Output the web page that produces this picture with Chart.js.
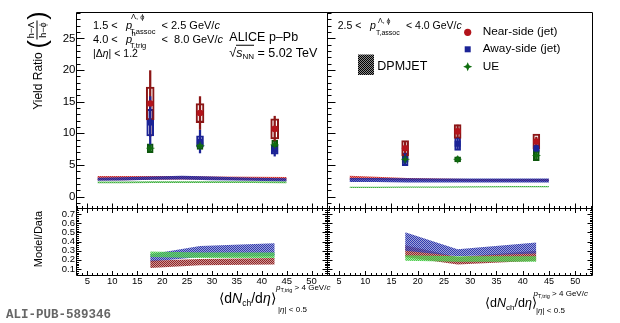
<!DOCTYPE html>
<html>
<head>
<meta charset="utf-8">
<script src="https://cdn.jsdelivr.net/npm/chart.js@4.4.1/dist/chart.umd.min.js"></script>
<style>
html,body{margin:0;padding:0;background:#fff;}
#wrap{position:relative;width:620px;height:323px;overflow:hidden;font-family:"Liberation Sans",Arial,Helvetica,sans-serif;color:#000;}
#wrap canvas{position:absolute;left:0;top:0;}
.t{position:absolute;white-space:nowrap;line-height:1;transform:translateY(-50%);}
.r{position:absolute;white-space:nowrap;line-height:1;transform:translate(-50%,-50%) rotate(-90deg);}
i{font-style:italic;}
</style>
</head>
<body>
<div id="wrap">
<canvas id="cTL" width="620" height="323"></canvas>
<canvas id="cBL" width="620" height="323"></canvas>
<canvas id="cTR" width="620" height="323"></canvas>
<canvas id="cBR" width="620" height="323"></canvas>

<div class="r" style="left:38px;top:81px;font-size:12px">Yield Ratio</div>
<div class="r" style="left:37px;top:30px;display:flex;align-items:center">
  <span style="font-size:25px">(</span>
  <span style="display:inline-flex;flex-direction:column;align-items:center;font-size:9px;margin:0 1px">
    <span style="border-bottom:1px solid #000;padding:0 1px 1px">h−Λ</span>
    <span style="padding-top:1px">h−ϕ</span>
  </span>
  <span style="font-size:25px">)</span>
</div>
<div class="r" style="left:38px;top:239px;font-size:11px">Model/Data</div>

<div class="t" style="left:93px;top:25px;font-size:11px">1.5 &lt;</div>
<div class="t" style="left:126px;top:25px;font-size:11px"><i>p</i></div>
<div class="t" style="left:131px;top:17px;font-size:7.5px">Λ, ϕ</div>
<div class="t" style="left:130px;top:31.5px;font-size:7.5px">T,assoc</div>
<div class="t" style="left:161.5px;top:25px;font-size:11px">&lt; 2.5 GeV/<i>c</i></div>
<div class="t" style="left:93px;top:39.3px;font-size:11px">4.0 &lt;</div>
<div class="t" style="left:126px;top:39.3px;font-size:11px"><i>p</i></div>
<div class="t" style="left:131.5px;top:34px;font-size:7.5px">h</div>
<div class="t" style="left:130px;top:45.5px;font-size:7.5px">T,trig</div>
<div class="t" style="left:161.5px;top:39.3px;font-size:11px">&lt;&nbsp; 8.0 GeV/<i>c</i></div>
<div class="t" style="left:93px;top:53.3px;font-size:10.5px">|Δ<i>η</i>| &lt; 1.2</div>
<div class="t" style="left:229.3px;top:37.3px;font-size:12.5px">ALICE p–Pb</div>
<div class="t" style="left:229.3px;top:52.7px;font-size:12.5px">√<span style="border-top:1px solid #000"><i>s</i><span style="font-size:8px;position:relative;top:2px">NN</span></span> = 5.02 TeV</div>

<div class="t" style="left:337.7px;top:25px;font-size:10.5px">2.5 &lt;</div>
<div class="t" style="left:370px;top:25px;font-size:10.5px"><i>p</i></div>
<div class="t" style="left:378px;top:19.5px;font-size:7px">Λ, ϕ</div>
<div class="t" style="left:376px;top:31.5px;font-size:7px">T,assoc</div>
<div class="t" style="left:406px;top:25px;font-size:10.5px">&lt; 4.0 GeV/<i>c</i></div>

<svg style="position:absolute;left:0;top:0" width="620" height="323">
  <defs>
    <pattern id="hp" width="2" height="2" patternUnits="userSpaceOnUse">
      <rect width="2" height="2" fill="#8a8a8a"/>
      <rect width="1" height="1" fill="#000"/>
      <rect x="1" y="1" width="1" height="1" fill="#000"/>
    </pattern>
  </defs>
  <rect x="358" y="54.5" width="16" height="20.5" fill="url(#hp)"/>
  <circle cx="467.7" cy="32.3" r="3.6" fill="#b3141b"/>
  <rect x="464.7" y="46.3" width="6" height="6" fill="#1b2396"/>
  <polygon points="467.7,62.2 469.1,65.3 472.2,66.7 469.1,68.1 467.7,71.2 466.3,68.1 463.2,66.7 466.3,65.3" fill="#0f6e0f"/>
</svg>
<div class="t" style="left:482.7px;top:32.3px;font-size:11.8px">Near-side (jet)</div>
<div class="t" style="left:482.7px;top:49.3px;font-size:11.8px">Away-side (jet)</div>
<div class="t" style="left:482.7px;top:66.7px;font-size:11.8px">UE</div>
<div class="t" style="left:377.3px;top:65.7px;font-size:12.5px">DPMJET</div>

<div class="t" style="left:219.3px;top:298.3px;font-size:14px">⟨d<i>N</i><span style="font-size:8.5px;position:relative;top:3px">ch</span>/d<i>η</i>⟩</div>
<div class="t" style="left:276px;top:287.5px;font-size:8px"><i>p</i><span style="font-size:5.5px;position:relative;top:2px">T,trig</span> &gt; 4 GeV/<i>c</i></div>
<div class="t" style="left:278px;top:309.5px;font-size:8px">|<i>η</i>| &lt; 0.5</div>

<div class="t" style="left:485px;top:303.3px;font-size:12.5px">⟨d<i>N</i><span style="font-size:8px;position:relative;top:3px">ch</span>/d<i>η</i>⟩</div>
<div class="t" style="left:533.5px;top:294.3px;font-size:8px"><i>p</i><span style="font-size:5.5px;position:relative;top:2px">T,trig</span> &gt; 4 GeV/<i>c</i></div>
<div class="t" style="left:536px;top:310.7px;font-size:8px">|<i>η</i>| &lt; 0.5</div>

<div class="t" style="left:6px;top:315px;font-size:12.5px;font-family:'Liberation Mono',monospace;font-weight:bold;color:#666">ALI-PUB-589346</div>
</div>

<script>
// ---------------- data ----------------
const multClasses = [17.6, 27.6, 42.6];

// 1.5 < pT,assoc < 2.5 GeV/c
const nearSideLow = [14.7, 13.2, 10.7];
const nearSideLowStat = [5.2, 2.6, 2.0];
const nearSideLowSys = [2.6, 1.5, 1.6];
const awaySideLow = [11.7, 8.7, 7.4];
const awaySideLowStat = [4.1, 1.8, 1.0];
const awaySideLowSys = [2.1, 0.9, 0.7];
const ueLow = [7.65, 8.05, 8.2];
const ueLowStat = [0.5, 0.5, 0.5];
const ueLowSys = [0.7, 0.6, 0.75];

// 2.5 < pT,assoc < 4.0 GeV/c
const nearSideHigh = [7.65, 10.3, 8.7];
const nearSideHighStat = [1.0, 1.0, 0.7];
const nearSideHighSys = [1.2, 1.1, 1.2];
const awaySideHigh = [5.9, 8.35, 7.6];
const awaySideHighStat = [0.9, 0.9, 0.6];
const awaySideHighSys = [1.0, 1.05, 0.6];
const ueHigh = [5.9, 5.9, 6.5];
const ueHighStat = [0.4, 0.4, 0.5];
const ueHighSys = [0.45, 0.4, 0.8];

// DPMJET yield-ratio bands
const dpmjetMult = [7, 12, 18, 24, 30, 38, 45];
const dpmNearLowLo = [2.6, 2.6, 2.65, 2.7, 2.65, 2.6, 2.55];
const dpmNearLowHi = [3.25, 3.25, 3.25, 3.25, 3.2, 3.15, 3.1];
const dpmAwayLowLo = [2.5, 2.55, 2.65, 2.7, 2.6, 2.5, 2.4];
const dpmAwayLowHi = [3.0, 3.05, 3.2, 3.3, 3.2, 3.0, 2.9];
const dpmUELowLo = [2.1, 2.1, 2.15, 2.15, 2.15, 2.15, 2.1];
const dpmUELowHi = [2.4, 2.4, 2.45, 2.45, 2.45, 2.45, 2.4];
const dpmNearHighLo = [2.7, 2.65, 2.55, 2.5, 2.45, 2.45, 2.45];
const dpmNearHighHi = [3.3, 3.15, 2.95, 2.85, 2.8, 2.8, 2.8];
const dpmAwayHighLo = [2.3, 2.3, 2.25, 2.25, 2.25, 2.25, 2.25];
const dpmAwayHighHi = [2.95, 2.95, 2.9, 2.85, 2.85, 2.85, 2.85];
const dpmUEHighLo = [1.35, 1.37, 1.4, 1.42, 1.45, 1.48, 1.5];
const dpmUEHighHi = [1.55, 1.57, 1.6, 1.62, 1.65, 1.68, 1.7];

// Model/Data bands
const ratioMult = [17.6, 27.6, 42.6];
const ratioNearLowLo = [0.11, 0.14, 0.15], ratioNearLowHi = [0.19, 0.21, 0.22];
const ratioAwayLowLo = [0.18, 0.23, 0.24], ratioAwayLowHi = [0.26, 0.35, 0.38];
const ratioUELowLo = [0.23, 0.22, 0.22], ratioUELowHi = [0.29, 0.28, 0.28];
const ratioNearHighLo = [0.23, 0.15, 0.19], ratioNearHighHi = [0.36, 0.23, 0.30];
const ratioAwayHighLo = [0.30, 0.24, 0.27], ratioAwayHighHi = [0.50, 0.315, 0.39];
const ratioUEHighLo = [0.19, 0.18, 0.18], ratioUEHighHi = [0.25, 0.24, 0.24];

// tick labels
const yTicksYield = [0, 5, 10, 15, 20, 25];
const yTicksRatio = [0.1, 0.2, 0.3, 0.4, 0.5, 0.6, 0.7];
const xTicksMult = [5, 10, 15, 20, 25, 30, 35, 40, 45, 50];

// ---------------- helpers ----------------
const FONT = "'Liberation Sans', Arial, sans-serif";
const COL = {red:'#b3141b', blue:'#1b2396', green:'#0f6e0f', redBox:'#8c1616', blueBox:'#1b2396', greenBox:'#0d560d'};

function hatch(r, g, b, a1, a2) {
  const c = document.createElement('canvas'); c.width = 2; c.height = 2;
  const x = c.getContext('2d');
  x.fillStyle = `rgba(${r},${g},${b},${a1})`; x.fillRect(0,0,1,1); x.fillRect(1,1,1,1);
  x.fillStyle = `rgba(${r},${g},${b},${a2})`; x.fillRect(1,0,1,1); x.fillRect(0,1,1,1);
  return x.createPattern(c, 'repeat');
}
function starImage(color, size) {
  const c = document.createElement('canvas'); c.width = c.height = size;
  const g = c.getContext('2d'); const r = size/2, ri = r*0.4;
  g.beginPath();
  for (let k = 0; k < 8; k++) { const a = -Math.PI/2 + k*Math.PI/4; const rr = k%2 ? ri : r; g.lineTo(r + rr*Math.cos(a), r + rr*Math.sin(a)); }
  g.closePath(); g.fillStyle = color; g.fill(); return c;
}
function band(xs, lo, hi, fillStyle, order) {
  return [
    {type:'line', data: xs.map((x,i)=>({x, y:lo[i]})), borderWidth:0, borderColor:'rgba(0,0,0,0)', pointRadius:0, fill:false, tension:0, order},
    {type:'line', data: xs.map((x,i)=>({x, y:hi[i]})), borderWidth:0, borderColor:'rgba(0,0,0,0)', pointRadius:0, fill:'-1', backgroundColor: fillStyle, tension:0, order}
  ];
}
function boxes(xs, v, sys, color, thick, order) {
  return {type:'bar', stack:'s', data: xs.map((x,i)=>({x, y:[v[i]-sys[i], v[i]+sys[i]]})), backgroundColor:'rgba(0,0,0,0)', borderColor: color, borderWidth:1.4, borderSkipped:false, barThickness: thick, order};
}
function errs(xs, v, st, color, order) {
  return {type:'bar', stack:'s', data: xs.map((x,i)=>({x, y:[v[i]-st[i], v[i]+st[i]]})), backgroundColor: color, borderWidth:0, barThickness:1.6, order};
}
function marks(xs, v, style, color, radius, order) {
  return {type:'scatter', data: xs.map((x,i)=>({x, y:v[i]})), pointStyle: style, pointRadius: radius, backgroundColor: color, borderColor: color, borderWidth: 0, order};
}

const frameTicks = {
  id: 'frameTicks',
  afterDraw(chart, args, o) {
    const {ctx, chartArea: a} = chart; const xs = chart.scales.x, ys = chart.scales.y;
    const e = v => Math.round(v) - 0.5;
    const L = e(a.left), R = e(a.right), T = e(a.top), B = e(a.bottom);
    const vals = (min, max, step) => { const out = []; for (let k = Math.ceil(min/step - 1e-6); k*step <= max + 1e-9; k++) out.push(k*step); return out; };
    ctx.save(); ctx.strokeStyle = '#000'; ctx.lineWidth = 1; ctx.beginPath();
    ctx.rect(L, T, R - L, B - T);
    const drawY = (list, len) => { for (const v of list) { const p = Math.round(ys.getPixelForValue(v)) + 0.5; if (p < T + 1 || p > B - 1) continue;
      if (o.yLeft) { ctx.moveTo(L, p); ctx.lineTo(L + len, p); }
      if (o.yRight) { ctx.moveTo(R, p); ctx.lineTo(R - len, p); } } };
    const drawX = (list, len) => { for (const v of list) { const p = Math.round(xs.getPixelForValue(v)) + 0.5; if (p < L + 1 || p > R - 1) continue;
      if (o.xBottom) { ctx.moveTo(p, B); ctx.lineTo(p, B - len); }
      if (o.xTop) { ctx.moveTo(p, T); ctx.lineTo(p, T + len); } } };
    drawY(vals(ys.min, ys.max, o.yMinor), o.yLenMin);
    drawY(vals(ys.min, ys.max, o.yMajor), o.yLenMaj);
    drawX(vals(xs.min, xs.max, 1), o.xLenMin);
    drawX(vals(xs.min, xs.max, 5), o.xLenMaj);
    ctx.stroke(); ctx.restore();
  }
};

function panel(id, cfg) {
  const yScale = {
    type:'linear', min:cfg.yr[0], max:cfg.yr[1], display:cfg.showY, position:'left', stacked:false, beginAtZero:false, bounds:'data',
    grid:{display:false, drawTicks:false}, border:{display:false},
    ticks:{autoSkip:false, padding:cfg.yPad, color:'#000', font:{family:FONT, size:cfg.yFont}, callback:cfg.yFmt},
    afterBuildTicks: s => { s.ticks = cfg.yTicks.map(v => ({value:v})); }
  };
  if (cfg.showY) yScale.afterFit = s => { s.width = cfg.left; };
  const xScale = {
    type:'linear', min:cfg.xr[0], max:cfg.xr[1], display:cfg.showX, position:'bottom', offset:false, bounds:'data',
    grid:{display:false, drawTicks:false, offset:false}, border:{display:false},
    ticks:{autoSkip:false, maxRotation:0, minRotation:0, padding:0, color:'#000', font:{family:FONT, size:cfg.xFont}, callback: v => String(v)},
    afterBuildTicks: s => { s.ticks = xTicksMult.map(v => ({value:v})); }
  };
  if (cfg.showX) xScale.afterFit = s => { s.height = 20; };
  return new Chart(document.getElementById(id), {
    type:'scatter',
    data:{datasets:cfg.datasets},
    options:{
      responsive:false, animation:false, events:[],
      layout:{padding:{left: cfg.showY ? 0 : cfg.left, right: 620 - cfg.right, top: cfg.top, bottom: 323 - cfg.bottom - (cfg.showX ? 20 : 0)}},
      scales:{x:xScale, y:yScale},
      plugins:{legend:{display:false}, tooltip:{enabled:false}, frameTicks: cfg.ticks}
    },
    plugins:[frameTicks]
  });
}

const star = starImage(COL.green, 9);
const fmtInt = v => String(v);
const fmt1 = v => v.toFixed(1);

const topTicks = {yLeft:true, yRight:false, yMajor:5, yMinor:1, yLenMaj:8, yLenMin:4, xBottom:true, xTop:false, xLenMaj:5, xLenMin:2.5};
const botTicks = {yLeft:true, yRight:true, yMajor:0.1, yMinor:0.02, yLenMaj:5, yLenMin:2.5, xBottom:true, xTop:true, xLenMaj:4.5, xLenMin:2.5};

// top-left
panel('cTL', {
  left:77, right:328, top:13, bottom:209, showY:true, showX:false,
  xr:[2.9, 53.3], yr:[-1.95, 29.0], yTicks:yTicksYield, yFmt:fmtInt, yFont:11.5, yPad:1.5, xFont:9,
  ticks: topTicks,
  datasets: [
    ...band(dpmjetMult, dpmNearLowLo, dpmNearLowHi, hatch(200,30,30,0.95,0.55), 32),
    ...band(dpmjetMult, dpmAwayLowLo, dpmAwayLowHi, hatch(25,35,160,0.95,0.65), 31),
    ...band(dpmjetMult, dpmUELowLo, dpmUELowHi, hatch(50,170,50,0.95,0.55), 30),
    boxes(multClasses, nearSideLow, nearSideLowSys, COL.redBox, 8, 12),
    boxes(multClasses, awaySideLow, awaySideLowSys, COL.blueBox, 7, 13),
    boxes(multClasses, ueLow, ueLowSys, COL.greenBox, 6, 11),
    errs(multClasses, nearSideLow, nearSideLowStat, COL.redBox, 7),
    errs(multClasses, awaySideLow, awaySideLowStat, COL.blueBox, 6),
    errs(multClasses, ueLow, ueLowStat, COL.greenBox, 5),
    marks(multClasses, nearSideLow, 'circle', COL.red, 3.3, 3),
    marks(multClasses, awaySideLow, 'rect', COL.blue, 4.2, 2),
    marks(multClasses, ueLow, star, COL.green, 4, 1)
  ]
});

// top-right
panel('cTR', {
  left:328, right:593, top:13, bottom:209, showY:false, showX:false,
  xr:[2.9, 53.4], yr:[-1.95, 29.0], yTicks:yTicksYield, yFmt:fmtInt, yFont:11.5, yPad:1.5, xFont:9,
  ticks: topTicks,
  datasets: [
    ...band(dpmjetMult, dpmNearHighLo, dpmNearHighHi, hatch(200,30,30,0.95,0.55), 32),
    ...band(dpmjetMult, dpmAwayHighLo, dpmAwayHighHi, hatch(25,35,160,0.95,0.65), 31),
    ...band(dpmjetMult, dpmUEHighLo, dpmUEHighHi, hatch(50,170,50,0.95,0.55), 30),
    boxes(multClasses, nearSideHigh, nearSideHighSys, COL.redBox, 7, 12),
    boxes(multClasses, awaySideHigh, awaySideHighSys, COL.blueBox, 6, 13),
    boxes(multClasses, ueHigh, ueHighSys, COL.greenBox, 6, 11),
    errs(multClasses, nearSideHigh, nearSideHighStat, COL.redBox, 7),
    errs(multClasses, awaySideHigh, awaySideHighStat, COL.blueBox, 6),
    errs(multClasses, ueHigh, ueHighStat, COL.greenBox, 5),
    marks(multClasses, nearSideHigh, 'circle', COL.red, 3.3, 3),
    marks(multClasses, awaySideHigh, 'rect', COL.blue, 4.2, 2),
    marks(multClasses, ueHigh, star, COL.green, 4, 1)
  ]
});

// bottom-left
panel('cBL', {
  left:77, right:328, top:209, bottom:276, showY:true, showX:true,
  xr:[2.9, 53.3], yr:[0.024, 0.755], yTicks:yTicksRatio, yFmt:fmt1, yFont:9.5, yPad:2, xFont:9.5,
  ticks: botTicks,
  datasets: [
    ...band(ratioMult, ratioAwayLowLo, ratioAwayLowHi, hatch(40,50,170,0.95,0.45), 33),
    ...band(ratioMult, ratioNearLowLo, ratioNearLowHi, hatch(140,25,25,0.95,0.45), 32),
    ...band(ratioMult, ratioUELowLo, ratioUELowHi, hatch(60,200,60,0.95,0.45), 31)
  ]
});

// bottom-right
panel('cBR', {
  left:328, right:593, top:209, bottom:276, showY:false, showX:true,
  xr:[2.9, 53.4], yr:[0.024, 0.755], yTicks:yTicksRatio, yFmt:fmt1, yFont:9.5, yPad:2, xFont:9,
  ticks: botTicks,
  datasets: [
    ...band(ratioMult, ratioNearHighLo, ratioNearHighHi, hatch(140,25,25,0.95,0.45), 33),
    ...band(ratioMult, ratioAwayHighLo, ratioAwayHighHi, hatch(40,50,170,0.95,0.45), 32),
    ...band(ratioMult, ratioUEHighLo, ratioUEHighHi, hatch(60,200,60,0.95,0.45), 31)
  ]
});
</script>
</body>
</html>
